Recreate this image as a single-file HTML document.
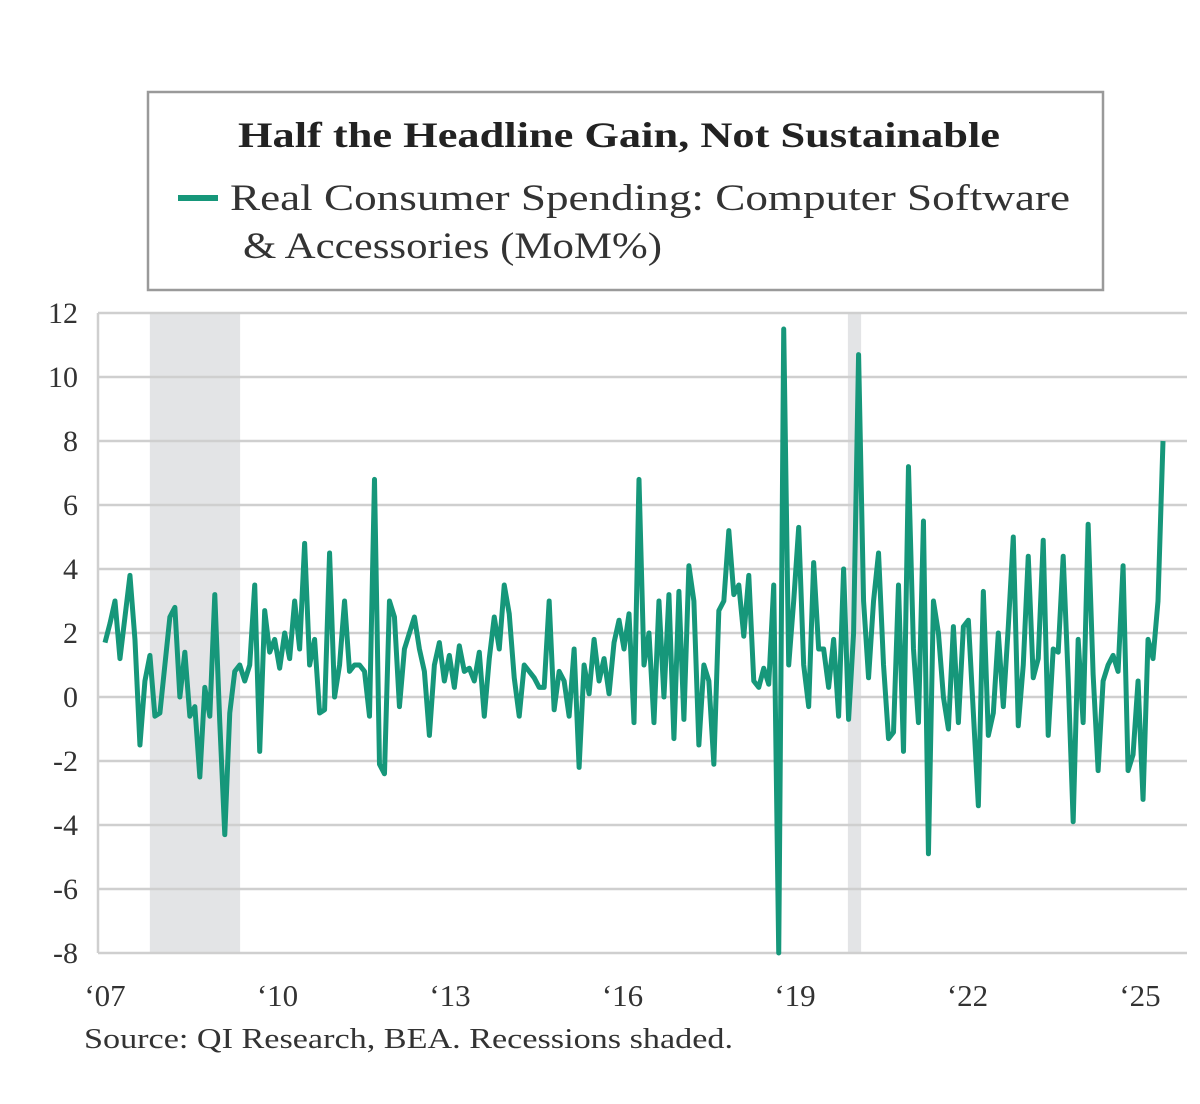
<!DOCTYPE html>
<html><head><meta charset="utf-8"><style>
body{margin:0;background:#fff;}
svg{display:block;font-family:"Liberation Serif",serif;}
</style></head><body>
<svg width="1200" height="1104" viewBox="0 0 1200 1104">
<rect x="148" y="92" width="955" height="198" fill="#fff" stroke="#9a9a9a" stroke-width="2.5"/>
<text x="238" y="147" textLength="762" lengthAdjust="spacingAndGlyphs" font-size="36" font-weight="bold" fill="#222">Half the Headline Gain, Not Sustainable</text>
<line x1="178" y1="198" x2="218" y2="198" stroke="#16977a" stroke-width="6"/>
<text x="230" y="210" textLength="840" lengthAdjust="spacingAndGlyphs" font-size="37" fill="#333">Real Consumer Spending: Computer Software</text>
<text x="243" y="258" textLength="419" lengthAdjust="spacingAndGlyphs" font-size="37" fill="#333">&amp; Accessories (MoM%)</text>
<g id="plot"></g>
<text x="84" y="1048" textLength="649" lengthAdjust="spacingAndGlyphs" font-size="28" fill="#333">Source: QI Research, BEA. Recessions shaded.</text>
</svg>
<script>
const yTicks=[12,10,8,6,4,2,0,-2,-4,-6,-8];
const xTickYears=[2007,2010,2013,2016,2019,2022,2025];
const xTickLabels=["‘07","‘10","‘13","‘16","‘19","‘22","‘25"];
const recessions=[[2007.78,2009.35],[2019.92,2020.15]];
const values=[1.7,2.3,3.0,1.2,2.5,3.8,1.8,-1.5,0.5,1.3,-0.6,-0.5,
1.0,2.5,2.8,0.0,1.4,-0.6,-0.3,-2.5,0.3,-0.6,3.2,-0.8,
-4.3,-0.5,0.8,1.0,0.5,1.0,3.5,-1.7,2.7,1.4,1.8,0.9,
2.0,1.2,3.0,1.5,4.8,1.0,1.8,-0.5,-0.4,4.5,0.0,1.0,
3.0,0.8,1.0,1.0,0.8,-0.6,6.8,-2.1,-2.4,3.0,2.5,-0.3,
1.5,2.0,2.5,1.5,0.8,-1.2,1.0,1.7,0.5,1.3,0.3,1.6,
0.8,0.9,0.5,1.4,-0.6,1.2,2.5,1.5,3.5,2.6,0.6,-0.6,
1.0,0.8,0.6,0.3,0.3,3.0,-0.4,0.8,0.5,-0.6,1.5,-2.2,
1.0,0.1,1.8,0.5,1.2,0.1,1.7,2.4,1.5,2.6,-0.8,6.8,
1.0,2.0,-0.8,3.0,0.0,3.2,-1.3,3.3,-0.7,4.1,3.0,-1.5,
1.0,0.5,-2.1,2.7,3.0,5.2,3.2,3.5,1.9,3.8,0.5,0.3,
0.9,0.4,3.5,-8.0,11.5,1.0,3.0,5.3,1.0,-0.3,4.2,1.5,
1.5,0.3,1.8,-0.6,4.0,-0.7,2.0,10.7,3.0,0.6,3.0,4.5,
1.0,-1.3,-1.1,3.5,-1.7,7.2,1.5,-0.8,5.5,-4.9,3.0,2.0,
0.0,-1.0,2.2,-0.8,2.2,2.4,-0.5,-3.4,3.3,-1.2,-0.5,2.0,
-0.3,2.2,5.0,-0.9,1.0,4.4,0.6,1.2,4.9,-1.2,1.5,1.4,
4.4,0.6,-3.9,1.8,-0.8,5.4,0.7,-2.3,0.5,1.0,1.3,0.8,
4.1,-2.3,-1.8,0.5,-3.2,1.8,1.2,3.0,8.0];
const NS="http://www.w3.org/2000/svg";
const g=document.getElementById('plot');
const L=98,R=1187,T=313,B=953;
const y=v=>T+(12-v)*(B-T)/20;
const xYear=yr=>105+(yr-2007)*(1140-105)/18;
const xIdx=i=>105+i*(1163-105)/(values.length-1);
function mk(t,a){const e=document.createElementNS(NS,t);for(const k in a)e.setAttribute(k,a[k]);g.appendChild(e);return e;}
recessions.forEach(r=>{const e=mk('rect',{x:xYear(r[0]),y:T,width:xYear(r[1])-xYear(r[0]),height:B-T,fill:'#e3e4e6'});

});
yTicks.forEach(v=>{const l=mk('line',{x1:L,x2:R,y1:y(v),y2:y(v),stroke:'#cfcfcf','stroke-width':2.5});


const t=mk('text',{x:78,y:y(v)+10,'text-anchor':'end','font-size':30,fill:'#333'});t.textContent=v;

});
const ax=mk('line',{x1:L,x2:L,y1:T,y2:B,stroke:'#cfcfcf','stroke-width':2.5});


xTickYears.forEach((yr,i)=>{const t=mk('text',{x:xYear(yr),y:1006,'text-anchor':'middle','font-size':31,fill:'#333'});t.textContent=xTickLabels[i];

});
const p=mk('polyline',{points:values.map((v,i)=>xIdx(i)+','+y(v)).join(' '),fill:'none',stroke:'#16977a','stroke-width':5,'stroke-linejoin':'round'});


</script>
</body></html>
